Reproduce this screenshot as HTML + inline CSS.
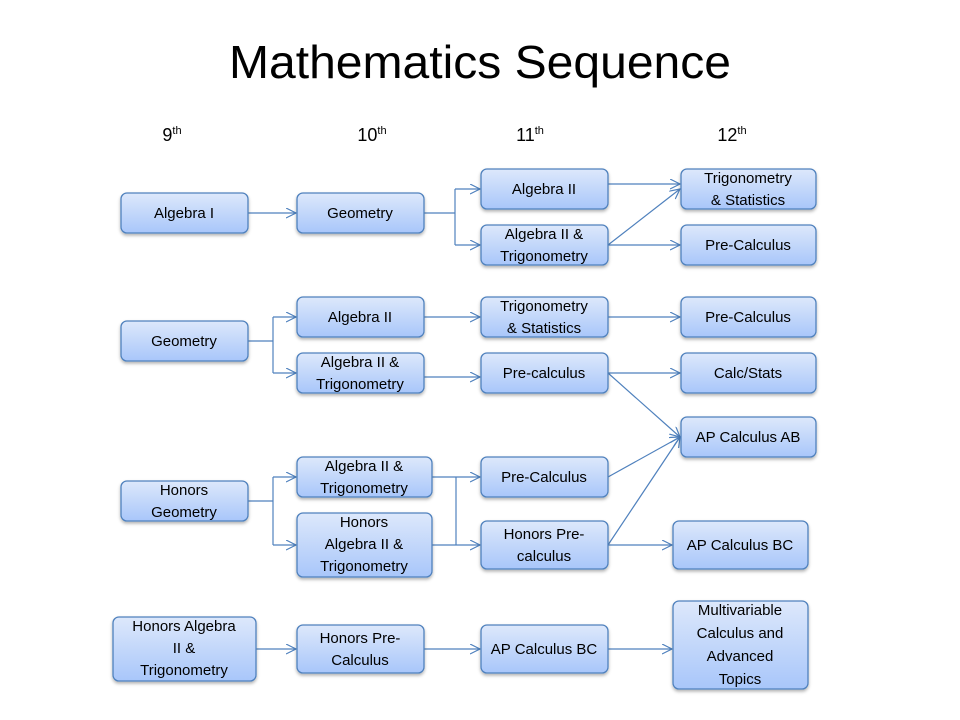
<!DOCTYPE html>
<html><head><meta charset="utf-8"><style>
body{margin:0;background:#fff}
svg{display:block}
text{font-family:"Liberation Sans",sans-serif;fill:#000}
.b text{font-size:15px}
</style></head><body>
<svg width="960" height="720" viewBox="0 0 960 720" xmlns="http://www.w3.org/2000/svg">
<defs>
<linearGradient id="g" x1="0" y1="0" x2="0" y2="1"><stop offset="0" stop-color="#dde8fb"/><stop offset="1" stop-color="#a8c6fa"/></linearGradient>
<filter id="s" x="-10%" y="-10%" width="120%" height="140%"><feDropShadow dx="0" dy="2" stdDeviation="1.5" flood-color="#000" flood-opacity="0.3"/></filter>
<marker id="a" markerWidth="12" markerHeight="12" refX="10" refY="5" orient="auto" markerUnits="userSpaceOnUse"><path d="M0,0 L10,5 L0,10" fill="none" stroke="#4f81bd" stroke-width="1.2"/></marker>
</defs>
<text x="480" y="78" font-size="46" text-anchor="middle" textLength="502" lengthAdjust="spacingAndGlyphs">Mathematics Sequence</text>
<g font-size="18" text-anchor="middle">
<text x="172" y="141">9<tspan font-size="11" dy="-7">th</tspan></text>
<text x="372" y="141">10<tspan font-size="11" dy="-7">th</tspan></text>
<text x="530" y="141">11<tspan font-size="11" dy="-7">th</tspan></text>
<text x="732" y="141">12<tspan font-size="11" dy="-7">th</tspan></text>
</g>
<g stroke="#4f81bd" stroke-width="1.2" fill="none">
<line x1="248" y1="213" x2="296" y2="213" marker-end="url(#a)"/>
<polyline points="424,213 455,213"/><polyline points="455,189 455,245"/>
<line x1="455" y1="189" x2="480" y2="189" marker-end="url(#a)"/>
<line x1="455" y1="245" x2="480" y2="245" marker-end="url(#a)"/>
<line x1="608" y1="184" x2="680" y2="184" marker-end="url(#a)"/>
<line x1="608" y1="245" x2="680" y2="189" marker-end="url(#a)"/>
<line x1="608" y1="245" x2="680" y2="245" marker-end="url(#a)"/>
<line x1="248" y1="341" x2="273" y2="341"/><line x1="273" y1="317" x2="273" y2="373"/>
<line x1="273" y1="317" x2="296" y2="317" marker-end="url(#a)"/>
<line x1="273" y1="373" x2="296" y2="373" marker-end="url(#a)"/>
<line x1="424" y1="317" x2="480" y2="317" marker-end="url(#a)"/>
<line x1="424" y1="377" x2="480" y2="377" marker-end="url(#a)"/>
<line x1="608" y1="317" x2="680" y2="317" marker-end="url(#a)"/>
<line x1="608" y1="373" x2="680" y2="373" marker-end="url(#a)"/>
<line x1="608" y1="373" x2="680" y2="437" marker-end="url(#a)"/>
<line x1="248" y1="501" x2="273" y2="501"/><line x1="273" y1="477" x2="273" y2="545"/>
<line x1="273" y1="477" x2="296" y2="477" marker-end="url(#a)"/>
<line x1="273" y1="545" x2="296" y2="545" marker-end="url(#a)"/>
<line x1="432" y1="477" x2="480" y2="477" marker-end="url(#a)"/>
<line x1="432" y1="545" x2="480" y2="545" marker-end="url(#a)"/>
<line x1="456" y1="477" x2="456" y2="545"/>
<line x1="608" y1="477" x2="680" y2="437" marker-end="url(#a)"/>
<line x1="608" y1="545" x2="680" y2="437" marker-end="url(#a)"/>
<line x1="608" y1="545" x2="672" y2="545" marker-end="url(#a)"/>
<line x1="256" y1="649" x2="296" y2="649" marker-end="url(#a)"/>
<line x1="424" y1="649" x2="480" y2="649" marker-end="url(#a)"/>
<line x1="608" y1="649" x2="672" y2="649" marker-end="url(#a)"/>
</g>
<g class="b" fill="url(#g)" stroke="#4f81bd" stroke-width="1.3">
<rect x="121" y="193" width="127" height="40" rx="6" filter="url(#s)"/>
<rect x="297" y="193" width="127" height="40" rx="6" filter="url(#s)"/>
<rect x="481" y="169" width="127" height="40" rx="6" filter="url(#s)"/>
<rect x="481" y="225" width="127" height="40" rx="6" filter="url(#s)"/>
<rect x="681" y="169" width="135" height="40" rx="6" filter="url(#s)"/>
<rect x="681" y="225" width="135" height="40" rx="6" filter="url(#s)"/>
<rect x="121" y="321" width="127" height="40" rx="6" filter="url(#s)"/>
<rect x="297" y="297" width="127" height="40" rx="6" filter="url(#s)"/>
<rect x="297" y="353" width="127" height="40" rx="6" filter="url(#s)"/>
<rect x="481" y="297" width="127" height="40" rx="6" filter="url(#s)"/>
<rect x="481" y="353" width="127" height="40" rx="6" filter="url(#s)"/>
<rect x="681" y="297" width="135" height="40" rx="6" filter="url(#s)"/>
<rect x="681" y="353" width="135" height="40" rx="6" filter="url(#s)"/>
<rect x="681" y="417" width="135" height="40" rx="6" filter="url(#s)"/>
<rect x="121" y="481" width="127" height="40" rx="6" filter="url(#s)"/>
<rect x="297" y="457" width="135" height="40" rx="6" filter="url(#s)"/>
<rect x="297" y="513" width="135" height="64" rx="6" filter="url(#s)"/>
<rect x="481" y="457" width="127" height="40" rx="6" filter="url(#s)"/>
<rect x="481" y="521" width="127" height="48" rx="6" filter="url(#s)"/>
<rect x="673" y="521" width="135" height="48" rx="6" filter="url(#s)"/>
<rect x="113" y="617" width="143" height="64" rx="6" filter="url(#s)"/>
<rect x="297" y="625" width="127" height="48" rx="6" filter="url(#s)"/>
<rect x="481" y="625" width="127" height="48" rx="6" filter="url(#s)"/>
<rect x="673" y="601" width="135" height="88" rx="6" filter="url(#s)"/>
</g>
<g font-size="15" text-anchor="middle">
<text x="184" y="218">Algebra I</text>
<text x="360" y="218">Geometry</text>
<text x="544" y="194">Algebra II</text>
<text x="544" y="239">Algebra II &amp;</text><text x="544" y="261">Trigonometry</text>
<text x="748" y="183">Trigonometry</text><text x="748" y="205">&amp; Statistics</text>
<text x="748" y="250">Pre-Calculus</text>
<text x="184" y="346">Geometry</text>
<text x="360" y="322">Algebra II</text>
<text x="360" y="367">Algebra II &amp;</text><text x="360" y="389">Trigonometry</text>
<text x="544" y="311">Trigonometry</text><text x="544" y="333">&amp; Statistics</text>
<text x="544" y="378">Pre-calculus</text>
<text x="748" y="322">Pre-Calculus</text>
<text x="748" y="378">Calc/Stats</text>
<text x="748" y="442">AP Calculus AB</text>
<text x="184" y="495">Honors</text><text x="184" y="517">Geometry</text>
<text x="364" y="471">Algebra II &amp;</text><text x="364" y="493">Trigonometry</text>
<text x="364" y="527">Honors</text><text x="364" y="549">Algebra II &amp;</text><text x="364" y="571">Trigonometry</text>
<text x="544" y="482">Pre-Calculus</text>
<text x="544" y="539">Honors Pre-</text><text x="544" y="561">calculus</text>
<text x="740" y="550">AP Calculus BC</text>
<text x="184" y="631">Honors Algebra</text><text x="184" y="653">II &amp;</text><text x="184" y="675">Trigonometry</text>
<text x="360" y="643">Honors Pre-</text><text x="360" y="665">Calculus</text>
<text x="544" y="654">AP Calculus BC</text>
<text x="740" y="615">Multivariable</text><text x="740" y="638">Calculus and</text><text x="740" y="661">Advanced</text><text x="740" y="684">Topics</text>
</g>
</svg>
</body></html>
